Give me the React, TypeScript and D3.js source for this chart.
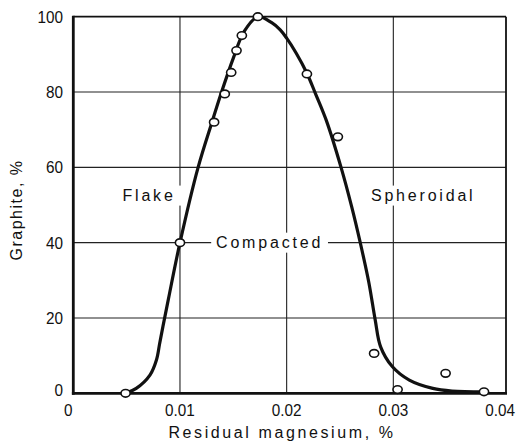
import React from "react";
import * as d3 from "d3";

const xTicks = [0, 0.01, 0.02, 0.03, 0.04];
const xTickLabels = ["0", "0.01", "0.02", "0.03", "0.04"];
const yTicks = [0, 20, 40, 60, 80, 100];
const yTickLabels = ["0", "20", "40", "60", "80", "100"];

// measured data points (open circles)
const pointMg = [0.0049, 0.01, 0.0132, 0.0142, 0.0148, 0.0153, 0.0158, 0.0173, 0.0219, 0.0248, 0.0282, 0.0304, 0.0349, 0.0385];
const pointGraphite = [0, 40, 72, 79.5, 85.2, 91, 95, 100, 84.8, 68.1, 10.6, 1, 5.3, 0.4];

// fitted curve drawn through the data
const curveMg = [0.0049, 0.0059, 0.0072, 0.0078, 0.0081, 0.0084, 0.0089, 0.0100, 0.0117, 0.0130, 0.0139, 0.0150, 0.0160, 0.0173, 0.0186, 0.0194, 0.0200, 0.0209, 0.0219, 0.0227, 0.0237, 0.0251, 0.0261, 0.0269, 0.0277, 0.0283, 0.0288, 0.0299, 0.0315, 0.0337, 0.0355, 0.0385];
const curveGraphite = [0, 1.3, 4.9, 8.9, 13.3, 17.7, 24.8, 40, 60, 72, 80, 89, 96, 100, 98.4, 96.5, 94.3, 90.3, 85, 79.6, 72.6, 60, 49.5, 40, 29.5, 19.5, 12.4, 7.1, 3.5, 1.3, 0.6, 0.4];

const labels = [
  { text: "Flake", mg: 0.0071, g: 52.5 },
  { text: "Spheroidal", mg: 0.0328, g: 52.5 },
  { text: "Compacted", mg: 0.0184, g: 40 },
];

const W = 518;
const H = 445;
const left = 73.3;
const right = 506;
const top = 16.7;
const bottom = 393.3;

export default function App() {
  const x = d3.scaleLinear().domain([0, 0.04]).range([left, left + 426.7]);
  const y = d3.scaleLinear().domain([0, 100]).range([bottom, top]);

  const line = d3
    .line<number>()
    .x((_, i) => x(curveMg[i]))
    .y((_, i) => y(curveGraphite[i]))
    .curve(d3.curveCatmullRom.alpha(0.5));

  const labelFont = "'Liberation Sans', Arial, Helvetica, sans-serif";
  const tickFont = "'Liberation Sans', Arial, sans-serif";
  const sx = 0.9;

  return (
    <svg
      width={W}
      height={H}
      style={{ position: "absolute", left: 0, top: 0, background: "#fff" }}
    >
      <rect x={0} y={0} width={W} height={H} fill="#fff" />
      {/* grid */}
      {yTicks.slice(1, -1).map((v) => (
        <line key={"gy" + v} x1={left} x2={right} y1={y(v)} y2={y(v)} stroke="#222" strokeWidth={1.1} />
      ))}
      {xTicks.slice(1, -1).map((v) => (
        <line key={"gx" + v} x1={x(v)} x2={x(v)} y1={top} y2={bottom} stroke="#222" strokeWidth={1.1} />
      ))}
      {/* label backgrounds */}
      {labels.map((l) => {
        const w = l.text.length * 11.2 + 16;
        return (
          <rect
            key={"bg" + l.text}
            x={x(l.mg) - w / 2}
            y={y(l.g) - 10}
            width={w}
            height={20}
            fill="#fff"
          />
        );
      })}
      {labels.map((l) => (
        <text
          key={l.text}
          x={x(l.mg)}
          y={y(l.g)}
          dy="0.36em"
          textAnchor="middle"
          fontFamily={labelFont}
          fontSize={16}
          letterSpacing={2.8}
          fill="#111"
        >
          {l.text}
        </text>
      ))}
      {/* frame */}
      <line x1={left} x2={right} y1={top} y2={top} stroke="#111" strokeWidth={1.8} />
      <line x1={right} x2={right} y1={top} y2={bottom} stroke="#111" strokeWidth={1.8} />
      <line x1={left} x2={left} y1={top - 1} y2={bottom + 1.5} stroke="#111" strokeWidth={2.8} />
      <line x1={left - 1.4} x2={right + 1} y1={bottom} y2={bottom} stroke="#111" strokeWidth={2.8} />
      {/* curve */}
      <path d={line(curveMg) || ""} fill="none" stroke="#111" strokeWidth={3.2} strokeLinejoin="round" />
      {/* points */}
      {pointMg.map((m, i) => (
        <ellipse
          key={"p" + i}
          cx={x(m)}
          cy={y(pointGraphite[i])}
          rx={4.6}
          ry={3.8}
          fill="#fff"
          stroke="#111"
          strokeWidth={1.6}
        />
      ))}
      {/* y tick labels */}
      {yTicks.map((v, i) => (
        <text
          key={"yt" + v}
          transform={`translate(63,${y(v) - (i === 0 ? 3 : 0)}) scale(${sx},1)`}
          dy="0.36em"
          textAnchor="end"
          fontFamily={tickFont}
          fontSize={17}
          fill="#111"
        >
          {yTickLabels[i]}
        </text>
      ))}
      {/* x tick labels */}
      {xTicks.map((v, i) => (
        <text
          key={"xt" + v}
          transform={`translate(${x(v) - (i === 0 ? 5 : 0)},416) scale(${sx},1)`}
          textAnchor="middle"
          fontFamily={tickFont}
          fontSize={17}
          fill="#111"
        >
          {xTickLabels[i]}
        </text>
      ))}
      {/* axis titles */}
      <text
        x={282}
        y={438}
        textAnchor="middle"
        fontFamily={labelFont}
        fontSize={16}
        letterSpacing={2.6}
        fill="#111"
      >
        Residual magnesium, %
      </text>
      <text
        transform={`translate(22,210) rotate(-90)`}
        textAnchor="middle"
        fontFamily={labelFont}
        fontSize={16}
        letterSpacing={1.5}
        fill="#111"
      >
        Graphite, %
      </text>
    </svg>
  );
}
